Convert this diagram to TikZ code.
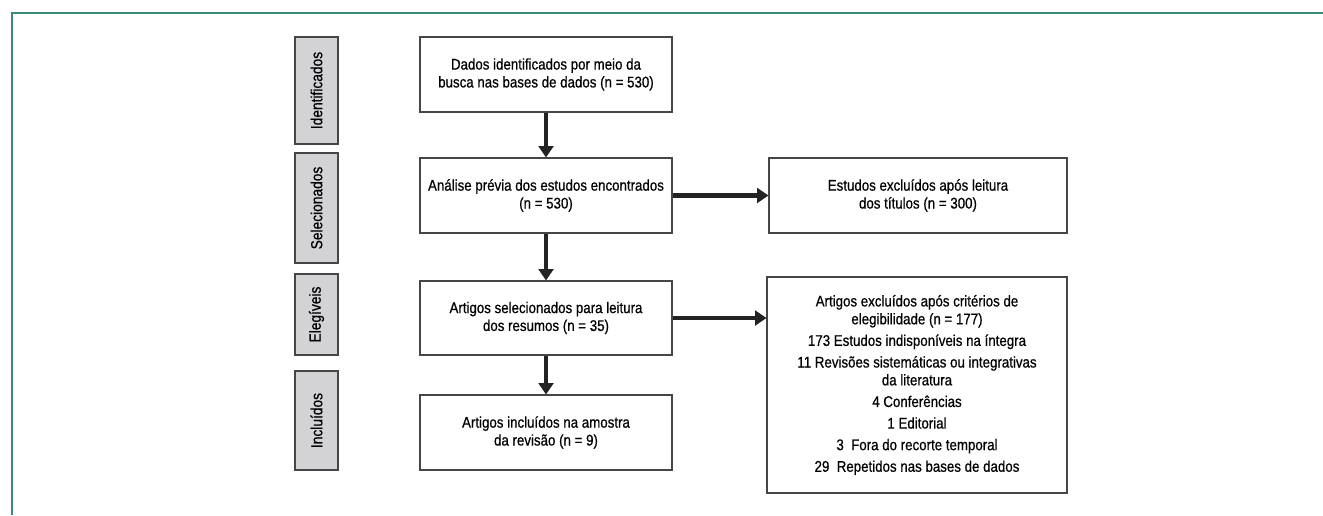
\documentclass[tikz,border=0pt]{standalone}
\usepackage{fontspec}
\setmainfont[FakeStretch=0.86,FakeBold=0.6]{Liberation Sans}
\usetikzlibrary{arrows.meta}
\definecolor{frameteal}{RGB}{58,140,122}
\definecolor{sidegray}{RGB}{211,211,213}
\definecolor{boxline}{RGB}{70,70,70}
\definecolor{arrowc}{RGB}{35,35,35}
\tikzset{
  px/.style={x=0.75pt,y=-0.75pt},
  sidebox/.style={draw=boxline,fill=sidegray,line width=0.9pt,rotate=90,inner sep=0pt,
    minimum height=32.25pt,font=\fontsize{12}{14}\selectfont},
  mainbox/.style={draw=boxline,line width=0.8pt,inner sep=0pt,align=center,
    font=\fontsize{11.6}{13.4}\selectfont},
  flow/.style={line width=3.2pt,draw=arrowc,-{Triangle[length=8.5pt,width=11pt]}}
}
\begin{document}
\begin{tikzpicture}[px]
\useasboundingbox (0,0) rectangle (1323,515);
\draw[frameteal,line width=1.6pt] (12,515) -- (12,13) -- (1323,13);
% side labels
\node[sidebox,minimum width=80.25pt] (sid) at (316.5,90.5) {Identificados};
\node[sidebox,minimum width=82.5pt] (ssel) at (316.5,208) {Selecionados};
\node[sidebox,minimum width=60.75pt] (sele) at (316.5,314.5) {Elegíveis};
\node[sidebox,minimum width=74.25pt] (sinc) at (316.5,420.5) {Incluídos};
% main column
\node[mainbox,minimum width=189pt,minimum height=56.25pt] (b1) at (546,74.5)
  {Dados identificados por meio da\\busca nas bases de dados (n = 530)};
\node[mainbox,minimum width=189pt,minimum height=56.25pt] (b2) at (546,195.5)
  {Análise prévia dos estudos encontrados\\(n = 530)};
\node[mainbox,minimum width=189pt,minimum height=55.5pt] (b3) at (546,318)
  {Artigos selecionados para leitura\\dos resumos (n = 35)};
\node[mainbox,minimum width=189pt,minimum height=56.25pt] (b4) at (546,432.5)
  {Artigos incluídos na amostra\\da revisão (n = 9)};
% right column
\node[mainbox,minimum width=223.5pt,minimum height=56.25pt] (r1) at (918,195.5)
  {Estudos excluídos após leitura\\dos títulos (n = 300)};
\node[mainbox,minimum width=225pt,minimum height=162pt] (r2) at (917,385)
  {Artigos excluídos após critérios de\\elegibilidade (n = 177)\\[2.8pt]
   173 Estudos indisponíveis na íntegra\\[2.8pt]
   11 Revisões sistemáticas ou integrativas\\da literatura\\[2.8pt]
   4 Conferências\\[2.8pt]
   1 Editorial\\[2.8pt]
   3\ \ Fora do recorte temporal\\[2.8pt]
   29\ \ Repetidos nas bases de dados};
% arrows
\draw[flow] (b1) -- (b2);
\draw[flow] (b2) -- (b3);
\draw[flow] (b3) -- (b4);
\draw[flow] (b2) -- (r1);
\draw[flow] (b3) -- (r2.west |- b3);
\end{tikzpicture}
\end{document}
